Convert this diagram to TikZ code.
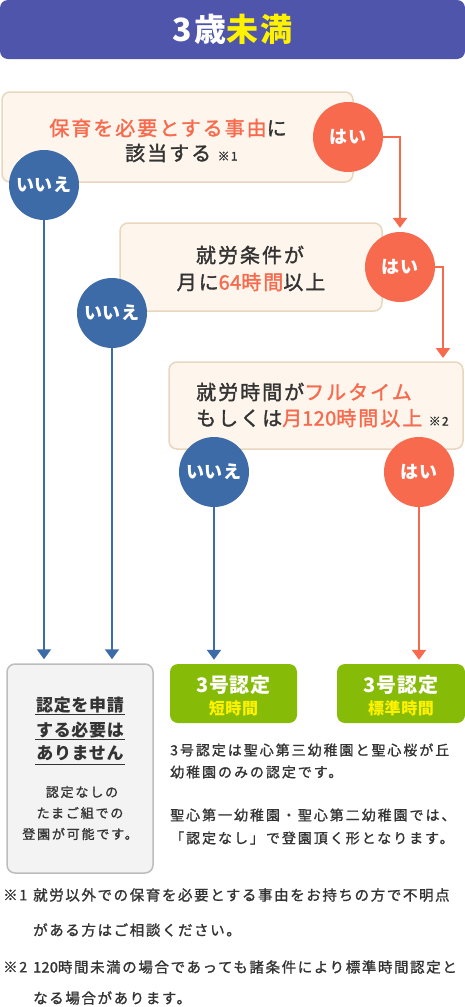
\documentclass[tikz,border=0pt]{standalone}
\usepackage{fontspec}
\usetikzlibrary{arrows.meta}
\setmainfont{Noto Sans CJK JP}
\newfontfamily\jpA{Noto Sans CJK JP}[LetterSpace=10, FakeBold=1.5]
\newfontfamily\jpP{Noto Sans CJK JP}[LetterSpace=14, FakeBold=1.2]
\newfontfamily\jpF{Noto Sans CJK JP}[LetterSpace=11, FakeBold=1.2]
\newfontfamily\jpN{Noto Sans CJK JP}[LetterSpace=2, FakeBold=1.5]
\newfontfamily\jpB{Noto Sans CJK JP}[LetterSpace=4]
\newfontfamily\jpT{Noto Sans CJK JP}[LetterSpace=6]
\newcommand\dg[1]{{\jpN #1}}
\definecolor{titlebg}{HTML}{4E55AB}
\definecolor{ttlyel}{HTML}{FFF200}
\definecolor{cream}{HTML}{FEF6EC}
\definecolor{tanbd}{HTML}{E8D6BF}
\definecolor{orng}{HTML}{F76A4E}
\definecolor{blu}{HTML}{3D6BA8}
\definecolor{grn}{HTML}{86BC07}
\definecolor{txt}{HTML}{333333}
\definecolor{grybg}{HTML}{F3F3F3}
\definecolor{grybd}{HTML}{BDBDBD}
\begin{document}
\begin{tikzpicture}[x=1pt,y=-1pt,
  qbox/.style={draw=tanbd, fill=cream, line width=1.5pt, rounded corners=8pt, inner sep=0pt},
  yesc/.style={circle, fill=orng, minimum size=70pt, inner sep=0pt, text=white, font=\jpB\bfseries\fontsize{18}{18}\selectfont},
  noc/.style={circle, fill=blu, minimum size=70pt, inner sep=0pt, text=white, font=\jpB\bfseries\fontsize{18}{18}\selectfont},
  barr/.style={draw=blu, line width=2pt, -{Triangle[width=14pt,length=10pt]}, shorten >=4pt},
  oarr/.style={draw=orng, line width=2pt, -{Triangle[width=14pt,length=10pt]}, shorten >=4pt},
  qtext/.style={inner sep=0pt, text=txt, font=\jpA\fontsize{20}{24}\selectfont},
  gbtext/.style={inner sep=0pt, text=txt, font=\jpB\bfseries\fontsize{17}{20}\selectfont},
  smtext/.style={inner sep=0pt, text=txt, font=\jpP\fontsize{13}{16}\selectfont},
  ptext/.style={inner sep=0pt, anchor=west, text=txt, font=\jpP\fontsize{14}{17}\selectfont},
  fnote/.style={inner sep=0pt, anchor=west, text=txt, font=\jpF\fontsize{14.5}{17}\selectfont},
  grnbox/.style={fill=grn, rounded corners=8pt, inner sep=0pt, minimum height=59pt},
  uline/.style={draw=txt, line width=1pt}
]
\useasboundingbox (0,0) rectangle (465,1007);

% title
\node[fill=titlebg, rounded corners=8pt, minimum width=465pt, minimum height=59pt, inner sep=0pt,
      font=\jpT\bfseries\fontsize{32}{32}\selectfont] (title) at (232.5,29.5)
      {\textcolor{white}{3歳}\textcolor{ttlyel}{未満}};

% question boxes
\node[qbox, minimum width=351pt, minimum height=90pt] (q1) at (177.5,137) {};
\node[qbox, minimum width=262pt, minimum height=88pt] (q2) at (251,267) {};
\node[qbox, minimum width=294pt, minimum height=87pt] (q3) at (316,405.5) {};

% question texts
\node[qtext] (q1a) at (168,128) {\textcolor{orng}{保育を必要とする事由}に};
\node[qtext, anchor=west] (q1b) at (125,153) {該当する {\fontsize{12}{12}\selectfont ※1}};
\node[qtext] (q2a) at (250,255) {就労条件が};
\node[qtext] (q2b) at (251,282) {月に\textcolor{orng}{\dg{64}時間}以上};
\node[qtext, anchor=west] (q3a) at (196,392) {就労時間が\textcolor{orng}{フルタイム}};
\node[qtext, anchor=west] (q3b) at (196,418) {もしくは\textcolor{orng}{月\dg{120}時間以上} {\fontsize{12}{12}\selectfont ※2}};

% answer circles
\node[yesc] (yes1) at (348,137) {はい};
\node[noc]  (no1)  at (44,185)  {いいえ};
\node[yesc] (yes2) at (400,267) {はい};
\node[noc]  (no2)  at (112,313) {いいえ};
\node[noc]  (no3)  at (214,472) {いいえ};
\node[yesc] (yes3) at (419,472) {はい};

% result boxes
\node[draw=grybd, fill=grybg, line width=1.5pt, rounded corners=8pt, minimum width=146pt, minimum height=209pt, inner sep=0pt] (gbox) at (80,768.5) {};
\node[grnbox, minimum width=127pt] (g1) at (233.5,693.5) {};
\node[grnbox, minimum width=128pt] (g2) at (401,693.5) {};

% connectors
\coordinate (t2) at (443,362);
\draw[oarr] (yes1.east) -| (yes2.north);
\draw[oarr] (yes2.east) -| (t2);
\draw[barr] (no1.south) -- (no1.south |- gbox.north);
\draw[barr] (no2.south) -- (no2.south |- gbox.north);
\draw[barr] (no3.south) -- (no3.south |- g1.north);
\draw[oarr] (yes3.south) -- (yes3.south |- g2.north);

% gray box text
\node[gbtext] (n1) at (80,705) {認定を申請};
\node[gbtext] (n2) at (80,730) {する必要は};
\node[gbtext] (n3) at (80,753) {ありません};
\draw[uline] (35,714) -- (125,714);
\draw[uline] (35,739) -- (125,739);
\draw[uline] (35,764) -- (125,764);
\node[smtext] (s1) at (82,792) {認定なしの};
\node[smtext] (s2) at (80,813) {たまご組での};
\node[smtext] (s3) at (80,834) {登園が可能です。};

% green box texts
\node[inner sep=0pt, text=white, font=\jpB\bfseries\fontsize{20}{20}\selectfont] (g1a) at (233.5,685) {3号認定};
\node[inner sep=0pt, text=ttlyel, font=\jpB\bfseries\fontsize{16}{16}\selectfont] (g1b) at (233.5,708) {短時間};
\node[inner sep=0pt, text=white, font=\jpB\bfseries\fontsize{20}{20}\selectfont] (g2a) at (401,685) {3号認定};
\node[inner sep=0pt, text=ttlyel, font=\jpB\bfseries\fontsize{16}{16}\selectfont] (g2b) at (401,708) {標準時間};

% paragraph
\node[ptext] (p1) at (170,750) {3号認定は聖心第三幼稚園と聖心桜が丘};
\node[ptext] (p2) at (170,772) {幼稚園のみの認定です。};
\node[ptext] (p3) at (170,815) {聖心第一幼稚園・聖心第二幼稚園では、};
\node[ptext] (p4) at (170,838) {「認定なし」で登園頂く形となります。};

% footnotes
\node[fnote] (f1m) at (3,895) {※1};
\node[fnote] (f1a) at (33,895) {就労以外での保育を必要とする事由をお持ちの方で不明点};
\node[fnote] (f1b) at (33,930) {がある方はご相談ください。};
\node[fnote] (f2m) at (3,967) {※2};
\node[fnote] (f2a) at (33,967) {{\jpN\fontsize{14.5}{17}\selectfont 120}時間未満の場合であっても諸条件により標準時間認定と};
\node[fnote] (f2b) at (33,998) {なる場合があります。};
\end{tikzpicture}
\end{document}
